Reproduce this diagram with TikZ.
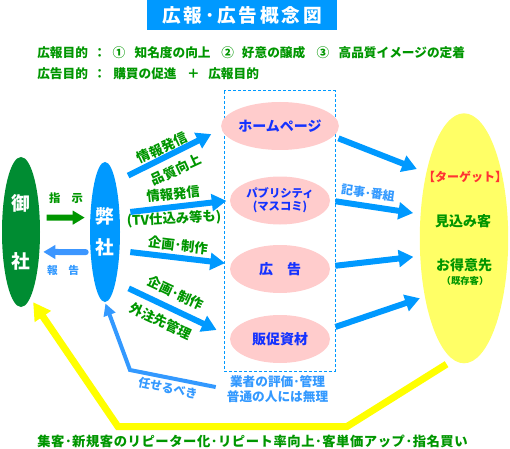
\documentclass[tikz,border=0pt]{standalone}
\usepackage{fontspec}
\setmainfont{Noto Sans CJK JP}
\newfontfamily\titlefont{Noto Sans CJK JP}[LetterSpace=15]
\newfontfamily\spacedfont{Noto Sans CJK JP}[LetterSpace=4]
\usetikzlibrary{shapes.geometric,arrows.meta}
\definecolor{titleblue}{RGB}{0,153,255}
\definecolor{txtgreen}{RGB}{0,150,0}
\definecolor{darkgreen}{RGB}{0,140,50}
\definecolor{arrblue}{RGB}{0,153,255}
\definecolor{rptblue}{RGB}{60,150,255}
\definecolor{ltblue}{RGB}{51,153,255}
\definecolor{txtblue}{RGB}{20,50,255}
\definecolor{pinkfill}{RGB}{255,204,204}
\definecolor{ylwfill}{RGB}{255,255,102}
\definecolor{ylwline}{RGB}{255,255,0}
\definecolor{tgred}{RGB}{255,51,51}
\begin{document}
\begin{tikzpicture}[x=0.75pt,y=-0.75pt,
    jp/.style={inner sep=0pt,font=\bfseries\fontsize{10}{12}\selectfont},
    grn/.style={jp,text=txtgreen},
    pinkell/.style={ellipse,fill=pinkfill,text=txtblue,inner sep=0pt,minimum width=75pt,minimum height=36pt,align=center,font=\bfseries\fontsize{10.5}{12}\selectfont},
    bigarrow/.style={line width=4.5pt,draw=arrblue,-{Triangle[length=11pt,width=12.5pt]}}]
      \useasboundingbox (0,0) rectangle (510,449);
      %%%%%%%%%%%%%%%%%%%%%%%%%%%%%%%%%%%%%%%%%%%%%%%
      \node[fill=titleblue,text=white,minimum width=142.5pt,minimum height=22.5pt,inner sep=0pt,font=\titlefont\bfseries\fontsize{14}{16}\selectfont] at (242,15) (ttl) {広報･広告概念図};
      \node[grn,anchor=west,font=\bfseries\fontsize{9.5}{11}\selectfont] at (37,52.5) (pr) {広報目的\hspace{4pt}：\hspace{5pt}①\hspace{7pt}知名度の向上\hspace{8pt}②\hspace{6pt}好意の醸成\hspace{8.5pt}③\hspace{7pt}高品質イメージの定着};
      \node[grn,anchor=west,font=\bfseries\fontsize{9.5}{11}\selectfont] at (37,74) (ad0) {広告目的\hspace{4pt}：\hspace{5.5pt}購買の促進\hspace{7.8pt}＋\hspace{6.5pt}広報目的};
      %%%%%%%%%%%%%%%%%%%%%%%%%%%%%%%%%%%%%%%%%%%%%%%
      \node[ellipse,fill=darkgreen,text=white,minimum width=28.5pt,minimum height=112.5pt,inner sep=0pt,align=center,font=\bfseries\fontsize{14}{43.5}\selectfont] at (21,232) (os) {御\\社};
      \node[ellipse,fill=arrblue,text=white,minimum width=22.5pt,minimum height=105pt,inner sep=0pt,align=center,font=\bfseries\fontsize{14}{23.8}\selectfont] at (105,232) (bs) {弊\\社};
      \node[grn,font=\bfseries\fontsize{8.5}{10}\selectfont] at (66,198) (ins) {指　示};
      \node[jp,text=ltblue,font=\bfseries\fontsize{8}{10}\selectfont] at (63,270) (rpt) {報　告};
      \draw[line width=4.5pt,draw=txtgreen,-{Triangle[length=9pt,width=10pt]},shorten <=5pt,shorten >=4pt] (os.37) -- (bs.136.4);
      \draw[line width=4.5pt,draw=rptblue,line cap=round,-{Triangle[length=9pt,width=10pt]},shorten <=3.5pt,shorten >=2.8pt] (bs.234.2) -- (os.-47.5);
      %%%%%%%%%%%%%%%%%%%%%%%%%%%%%%%%%%%%%%%%%%%%%%%
      \draw[draw=arrblue,line width=0.75pt,dash pattern=on 2.25pt off 1.5pt] (224,91) rectangle (335,371);
      \node[pinkell] at (280,126) (hp) {ホームページ};
      \node[pinkell,font=\bfseries\fontsize{8.5}{10}\selectfont] at (280,200.5) (pb) {パブリシティ\\(マスコミ)};
      \node[pinkell] at (280,269) (ad) {広　告};
      \node[pinkell] at (280,339) (hs) {販促資材};
      \node[jp,text=ltblue,align=center,font=\bfseries\fontsize{9.5}{11.25}\selectfont] at (277.5,389.2) (gy) {業者の評価･管理\\普通の人には無理};
      %%%%%%%%%%%%%%%%%%%%%%%%%%%%%%%%%%%%%%%%%%%%%%%
      \node[grn,rotate=25] at (162,148) (l1) {情報発信};
      \node[grn,rotate=25] at (176,170) (l2) {品質向上};
      \node[grn,rotate=6] at (173,194) (l3) {情報発信};
      \node[grn,rotate=3] at (174,219) (l4) {(TV仕込み等も)};
      \node[grn,rotate=-7] at (178,245) (l5) {企画･制作};
      \node[grn,rotate=-25] at (176,293) (l6) {企画･制作};
      \node[grn,rotate=-25] at (161,321) (l7) {外注先管理};
      \draw[bigarrow,shorten <=10.4pt,shorten >=8.4pt] (bs.78) -- (hp.183);
      \draw[bigarrow,shorten <=8pt,shorten >=2.5pt] (bs.52) -- (pb.west);
      \draw[bigarrow,shorten <=8pt,shorten >=4.5pt] (bs.-52) -- (ad.174);
      \draw[bigarrow,shorten <=10.8pt,shorten >=11.2pt] (bs.-78.5) -- (hs.177);
      %%%%%%%%%%%%%%%%%%%%%%%%%%%%%%%%%%%%%%%%%%%%%%%
      \node[ellipse,fill=ylwfill,minimum width=66.3pt,minimum height=187.5pt,inner sep=0pt] at (464,238.3) (tg) {};
      \node[jp,text=tgred,font=\bfseries\fontsize{9}{11}\selectfont] at (465,176.7) (t1) {【ターゲット】};
      \node[grn,font=\bfseries\fontsize{10.5}{12}\selectfont] at (463,221.7) (t2) {見込み客};
      \node[grn,font=\bfseries\fontsize{10.5}{12}\selectfont] at (464,265) (t3) {お得意先};
      \node[grn,font=\bfseries\fontsize{7}{9}\selectfont] at (465,280.7) (t4) {（既存客）};
      \node[jp,text=ltblue,font=\bfseries\fontsize{9}{11}\selectfont,rotate=-8] at (368,193) (kj) {記事･番組};
      \draw[bigarrow,shorten <=4pt,shorten >=7.5pt] (hp.-11) -- (tg.120.5);
      \draw[bigarrow,shorten <=4pt,shorten >=5.5pt] (pb.east) -- (tg.151);
      \draw[bigarrow,shorten <=4pt,shorten >=5pt] (ad.3) -- (tg.202);
      \draw[bigarrow,shorten <=7pt,shorten >=3.8pt] (hs.11) -- (tg.236);
      %%%%%%%%%%%%%%%%%%%%%%%%%%%%%%%%%%%%%%%%%%%%%%%
      \coordinate (mk) at (130,370);
      \node[jp,text=ltblue,font=\bfseries\fontsize{9}{11}\selectfont,rotate=-12] at (168,388) (mt) {任せるべき};
      \draw[line width=3pt,draw=ltblue,-{Triangle[length=9pt,width=9pt]},shorten <=8.3pt,shorten >=1pt] (gy.west) -- (mk) -- (bs.south);
      %%%%%%%%%%%%%%%%%%%%%%%%%%%%%%%%%%%%%%%%%%%%%%%
      \coordinate (yc1) at (346.7,426.7);
      \coordinate (yc2) at (118,426.7);
      \draw[line width=5.25pt,draw=ylwline,-{Triangle[length=13pt,width=14pt]},shorten <=6pt,shorten >=3.8pt] (tg.-95) -- (yc1) -- (yc2) -- (os.-82);
      \node[grn,font=\spacedfont\bfseries\fontsize{10}{12}\selectfont] at (252.5,441) (bt) {集客･新規客のリピーター化･リピート率向上･客単価アップ･指名買い};
      %%%%%%%%%%%%%%%%%%%%%%%%%%%%%%%%%%%%%%%%%%%%%%%
\end{tikzpicture}
\end{document}
